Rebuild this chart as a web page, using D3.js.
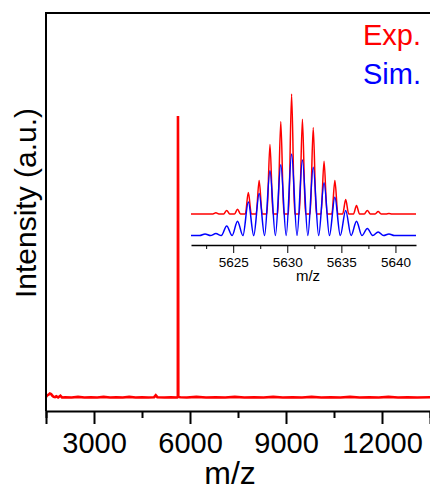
<!DOCTYPE html>
<html>

<head>
  <meta charset="utf-8">
  <style>
    body {
      margin: 0;
      background: #fff;
    }

    svg text {
      font-family: "Liberation Sans", Arial, sans-serif;
    }

    .axis path,
    .axis line {
      stroke: #000;
    }
  </style>
</head>

<body>
  <svg id="chart" width="430" height="490"></svg>

  <script src="https://d3js.org/d3.v7.min.js"></script>
  <script>
    // full spectrum (m/z, normalised intensity)
    var mainMz = [1500, 1540, 1580, 1620, 1660, 1700, 1740, 1780, 1820, 1880, 1950, 2000, 2100,
      2300, 2500, 2700, 2900, 3100, 3300, 3500, 3700, 3900, 4100, 4300, 4500, 4700, 4880,
      4930, 4980, 5200, 5400, 5600, 5620, 5624, 5628, 5634, 5700, 5900, 6200, 6500, 6800,
      7100, 7400, 7700, 8000, 8300, 8600, 8900, 9200, 9500, 9800, 10100, 10400, 10700,
      11000, 11300, 11600, 11900, 12200, 12500, 12800, 13100, 13500];
    var mainInt = [0.004, 0.010, 0.012, 0.016, 0.014, 0.008, 0.004, 0.003, 0.006, 0.002, 0.008, 0.002, 0.003,
      0.002, 0.004, 0.002, 0.003, 0.002, 0.004, 0.002, 0.003, 0.002, 0.004, 0.002, 0.003, 0.002, 0.003,
      0.010, 0.003, 0.002, 0.003, 0.002, 0.004, 1.0, 0.76, 0.004, 0.003, 0.002, 0.004, 0.002, 0.003,
      0.002, 0.004, 0.002, 0.003, 0.002, 0.004, 0.002, 0.003, 0.002, 0.004, 0.002, 0.003, 0.002,
      0.004, 0.002, 0.003, 0.002, 0.004, 0.002, 0.003, 0.002, 0.003];

    // isotope pattern in the inset
    var isoMz = [5622.4, 5623.4, 5624.4, 5625.4, 5626.4, 5627.4, 5628.4, 5629.4, 5630.4,
      5631.4, 5632.4, 5633.4, 5634.4, 5635.4, 5636.4, 5637.4, 5638.4, 5639.4];
    var expInt = [0, 1, 3, 4, 18, 28, 58, 77, 100, 79, 72, 44, 28, 12, 7, 3, 2, 0.5];
    var simInt = [1.4, 1.7, 8, 12, 28, 35, 54, 59, 68, 63, 57, 44, 32, 21, 12, 6, 3, 1.4];
    var expOffset = 18;

    var mainTicks = [3000, 6000, 9000, 12000],
      mainMinor = [1500, 4500, 7500, 10500, 13500],
      insetTicks = [5625, 5630, 5635, 5640],
      insetMinor = [5622.5, 5627.5, 5632.5, 5637.5];

    var svg = d3.select('#chart');

    var x = d3.scaleLinear().domain([1500, 13500]).range([46, 430]),
      y = d3.scaleLinear().domain([-0.046, 1.365]).range([411, 13]);

    // spectrum
    var pts = mainMz.map(function (d, i) { return [d, mainInt[i]]; });
    svg.append('path')
      .attr('d', d3.line().x(d => x(d[0])).y(d => y(d[1]))(pts))
      .attr('fill', 'none')
      .attr('stroke', '#ff0000')
      .attr('stroke-width', 2.6);

    // frame: left + top
    svg.append('line')
      .attr('x1', 46).attr('x2', 46).attr('y1', 13).attr('y2', 411)
      .attr('stroke', '#000').attr('stroke-width', 2);
    svg.append('line')
      .attr('x1', 45).attr('x2', 430).attr('y1', 13).attr('y2', 13)
      .attr('stroke', '#000').attr('stroke-width', 2);

    var xAxis = svg.append('g')
      .attr('class', 'axis')
      .attr('transform', 'translate(0,411)')
      .call(d3.axisBottom(x).tickValues(mainTicks).tickSize(13).tickPadding(8)
        .tickFormat(d3.format('d')));
    xAxis.select('.domain').attr('stroke-width', 2);
    xAxis.selectAll('line').attr('stroke-width', 2);
    xAxis.selectAll('text').attr('font-size', 29).attr('fill', '#000');

    var xMinor = svg.append('g')
      .attr('class', 'axis')
      .attr('transform', 'translate(0,411)')
      .call(d3.axisBottom(x).tickValues(mainMinor).tickSize(7).tickFormat(''));
    xMinor.select('.domain').remove();
    xMinor.selectAll('line').attr('stroke-width', 2);

    svg.append('text')
      .attr('x', 230).attr('y', 484)
      .attr('text-anchor', 'middle')
      .attr('font-size', 32)
      .text('m/z');

    svg.append('text')
      .attr('transform', 'translate(36,203) rotate(-90)')
      .attr('text-anchor', 'middle')
      .attr('font-size', 30)
      .text('Intensity (a.u.)');

    // legend
    svg.append('text')
      .attr('x', 421).attr('y', 45)
      .attr('text-anchor', 'end').attr('font-size', 29)
      .attr('fill', '#ff0000')
      .text('Exp.');
    svg.append('text')
      .attr('x', 421).attr('y', 84)
      .attr('text-anchor', 'end').attr('font-size', 29)
      .attr('fill', '#0000ff')
      .text('Sim.');

    // inset
    var ix = d3.scaleLinear().domain([5621.1, 5641.9]).range([191, 416]),
      iy = d3.scaleLinear().domain([0, 100]).range([235.6, 115.6]);

    var expPts = [[5621.1, 0]];
    isoMz.forEach(function (c, i) {
      expPts.push([c - 0.5, 0], [c - 0.28, 0], [c, expInt[i]], [c + 0.28, 0]);
    });
    expPts.push([5641.9, 0]);

    var simPts = [[5621.1, 0], [5621.9, 0]];
    isoMz.forEach(function (c, i) {
      simPts.push([c, simInt[i]], [c + 0.5, 0]);
    });
    simPts.push([5641.9, 0]);

    svg.append('path')
      .attr('d', d3.line().curve(d3.curveMonotoneX)
        .x(d => ix(d[0])).y(d => iy(d[1] + expOffset))(expPts))
      .attr('fill', 'none')
      .attr('stroke', '#ff0000')
      .attr('stroke-width', 1.5);

    svg.append('path')
      .attr('d', d3.line().curve(d3.curveMonotoneX)
        .x(d => ix(d[0])).y(d => iy(d[1]))(simPts))
      .attr('fill', 'none')
      .attr('stroke', '#0000ff')
      .attr('stroke-width', 1.5);

    var iAxis = svg.append('g')
      .attr('class', 'axis')
      .attr('transform', 'translate(0,245)')
      .call(d3.axisBottom(ix).tickValues(insetTicks).tickSize(8).tickPadding(4)
        .tickSizeOuter(0).tickFormat(d3.format('d')));
    iAxis.select('.domain').attr('stroke-width', 1.5);
    iAxis.selectAll('text').attr('font-size', 13.5).attr('fill', '#000');

    var iMinor = svg.append('g')
      .attr('class', 'axis')
      .attr('transform', 'translate(0,245)')
      .call(d3.axisBottom(ix).tickValues(insetMinor).tickSize(4).tickFormat(''));
    iMinor.select('.domain').remove();

    svg.append('text')
      .attr('x', 308).attr('y', 281)
      .attr('text-anchor', 'middle')
      .attr('font-size', 15)
      .text('m/z');
  </script>
</body>

</html>
